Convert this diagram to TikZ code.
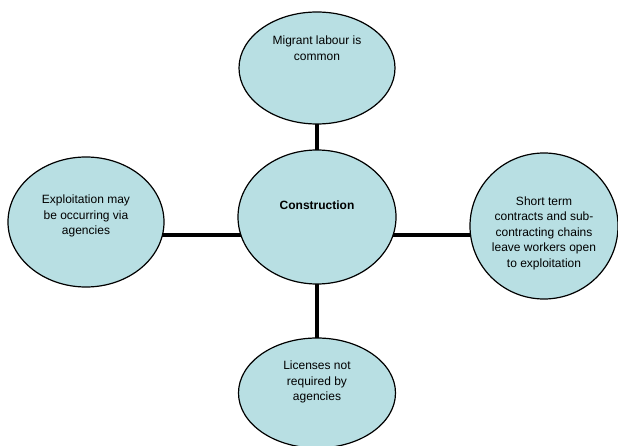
\documentclass[tikz,border=0pt]{standalone}
\usepackage{fontspec}
\setmainfont{Liberation Sans}
\usetikzlibrary{shapes.geometric}
\pgfdeclarelayer{background}
\pgfsetlayers{background,main}
\definecolor{bubble}{RGB}{184,223,227}
\begin{document}
\begin{tikzpicture}[x=1pt,y=-1pt,
  bubble/.style={ellipse,draw=black,line width=1.2pt,fill=bubble,inner sep=0pt},
  txt/.style={align=center,font=\fontsize{12}{15.5}\selectfont,inner sep=0pt},
  link/.style={line width=4pt,black}]
\useasboundingbox (0,0) rectangle (618,446);
\node[bubble,minimum width=156,minimum height=112] (top) at (317,68) {};
\node[bubble,minimum width=158,minimum height=134] (c) at (317,217) {};
\node[bubble,minimum width=156,minimum height=130] (l) at (86,222) {};
\node[bubble,minimum width=148,minimum height=146] (r) at (544,226) {};
\node[bubble,minimum width=157,minimum height=110] (b) at (317,393) {};
\node[txt] (ttop) at (317,48) {Migrant labour is\\common};
\node[txt,font=\bfseries\fontsize{12}{15.5}\selectfont] (tc) at (317,205) {Construction};
\node[txt] (tl) at (86,216) {Exploitation may\\be occurring via\\agencies};
\node[txt] (tr) at (544,233) {Short term\\contracts and sub-\\contracting chains\\leave workers open\\to exploitation};
\node[txt] (tb) at (317,382) {Licenses not\\required by\\agencies};
\begin{pgfonlayer}{background}
\draw[link] (top.center) -- (c.center);
\draw[link] (c.center) -- (b.center);
\draw[link] ([yshift=-13pt]l.center) -- ([yshift=-18pt]c.center);
\draw[link] ([yshift=-18pt]c.center) -- ([yshift=-9pt]r.center);
\end{pgfonlayer}
\end{tikzpicture}
\end{document}
